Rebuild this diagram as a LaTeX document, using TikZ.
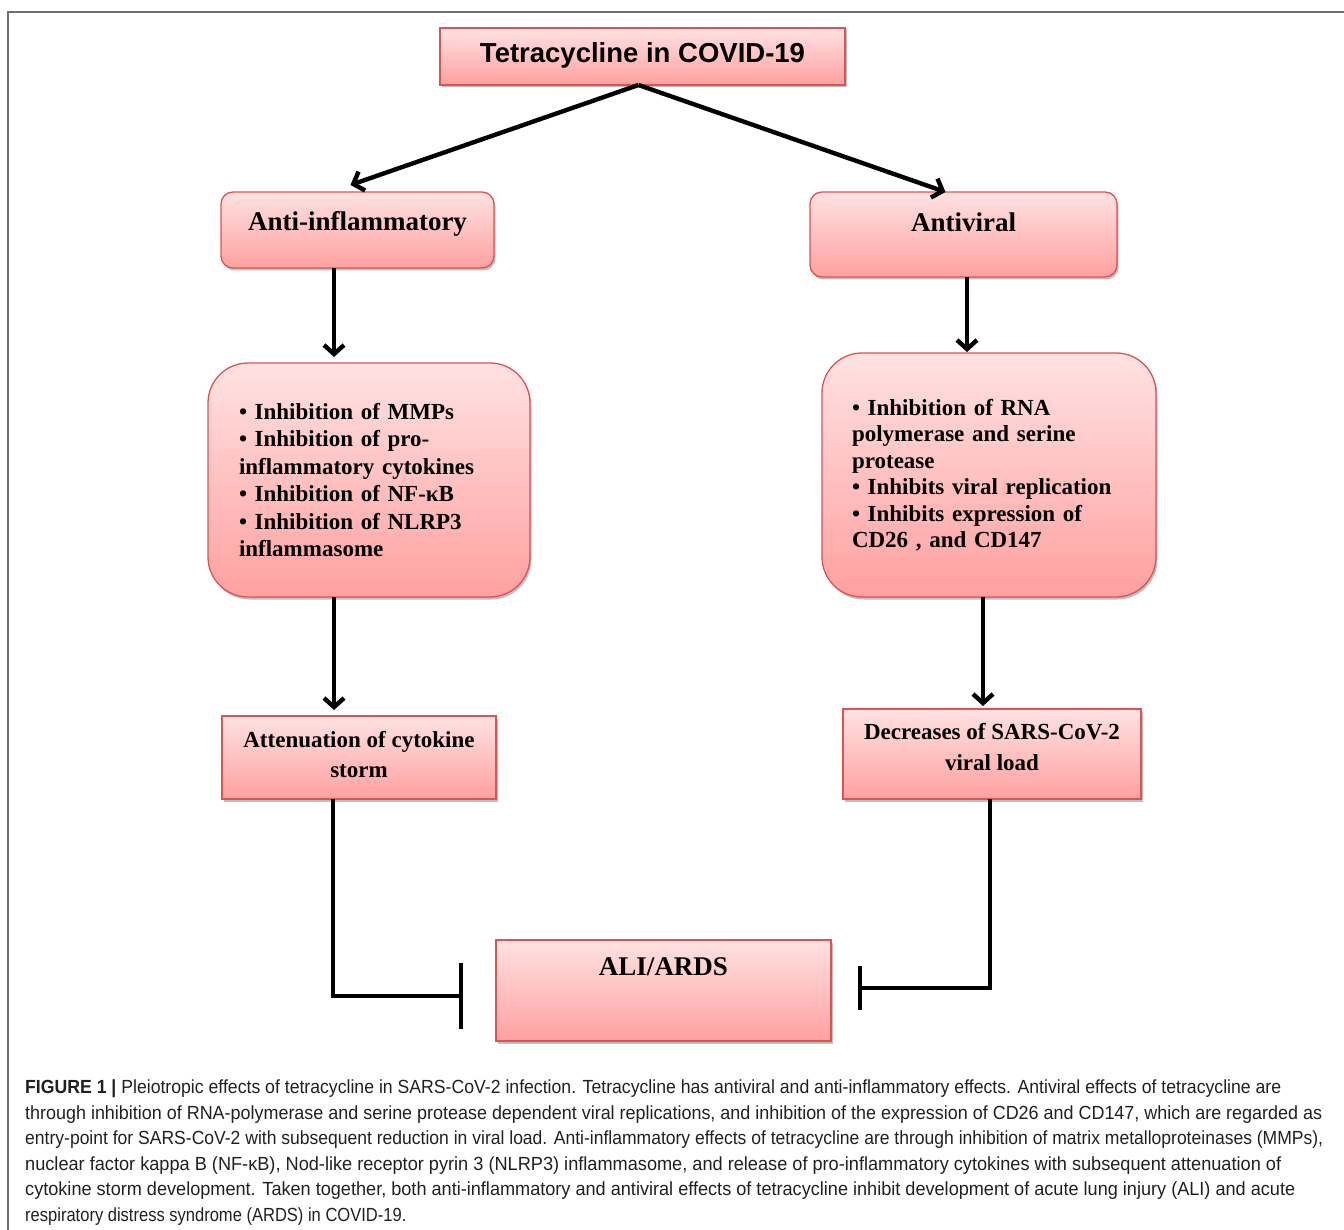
\documentclass[tikz,border=0pt]{standalone}
\usepackage{fontspec}
\setmainfont{Liberation Serif}
\newfontfamily\titlefont{Liberation Sans}
\newfontfamily\capfont[FakeStretch=0.87]{Liberation Sans}
\usepackage{graphicx}
\usetikzlibrary{arrows.meta,shadows}
\definecolor{boxtop}{HTML}{FFE2E2}
\definecolor{boxbot}{HTML}{FFA0A0}
\definecolor{boxline}{HTML}{E05252}
\definecolor{framegray}{HTML}{707070}
\definecolor{captext}{HTML}{231F20}
\begin{document}
\begin{tikzpicture}[x=1pt,y=-1pt,
  pbox/.style={draw=boxline, line width=1.3pt, top color=boxtop, bottom color=boxbot,
    anchor=north west, inner sep=0pt, outer sep=0pt,
    drop shadow={shadow xshift=1.5pt, shadow yshift=-2.5pt, fill=black, opacity=0.25}},
  headfont/.style={font=\bfseries\fontsize{27}{30}\selectfont},
  bodyfont/.style={font=\bfseries\fontsize{23}{#1}\selectfont},
  arr/.style={line width=4.4pt, -{Straight Barb[length=9pt,width=20pt]}},
  inh/.style={line width=4.4pt, -{Bar[width=#1]}}
]
\useasboundingbox (0,0) rectangle (1344,1230);
\draw[framegray, line width=1.5pt] (8,1232) -- (8,12) -- (1346,12);

\node[pbox, minimum width=405pt, minimum height=57pt, text height=35pt, text depth=22pt,
  font=\titlefont\bfseries\fontsize{27.5}{30}\selectfont] (title) at (440,28) {Tetracycline in COVID-19};

\node[pbox, rounded corners=12pt, minimum width=273pt, minimum height=76pt,
  text height=39pt, text depth=37pt, headfont] (anti) at (221,192) {Anti-inflammatory};
\node[pbox, rounded corners=12pt, minimum width=307pt, minimum height=85pt,
  text height=40pt, text depth=45pt, headfont] (antiv) at (810,192) {Antiviral};

\node[pbox, rounded corners=40pt, minimum width=322pt, minimum height=234pt,
  text width=260pt, align=left, bodyfont=27.4] (bl) at (208,363)
  {\textbullet\ Inhibition of MMPs\\
   \textbullet\ Inhibition of pro-\\
   inflammatory cytokines\\
   \textbullet\ Inhibition of NF-κB\\
   \textbullet\ Inhibition of NLRP3\\
   inflammasome};
\node[pbox, rounded corners=40pt, minimum width=334pt, minimum height=244pt,
  text width=274pt, align=left, bodyfont=26.5] (br) at (822,353)
  {\textbullet\ Inhibition of RNA\\
   polymerase and serine\\
   protease\\
   \textbullet\ Inhibits viral replication\\
   \textbullet\ Inhibits expression of\\
   CD26 , and CD147};

\node[pbox, minimum width=274pt, minimum height=83pt, align=center, bodyfont=30] (att) at (222,716)
  {Attenuation of cytokine\\storm\rule[-7pt]{0pt}{7pt}};
\node[pbox, minimum width=298pt, minimum height=90pt, align=center, bodyfont=31] (dec) at (843,709)
  {Decreases of SARS-CoV-2\\viral load\rule[-15pt]{0pt}{15pt}};

\node[pbox, minimum width=335pt, minimum height=101pt, text height=35pt, text depth=66pt,
  headfont] (ali) at (496,940) {ALI/ARDS};

% connectors
\draw[arr] ([xshift=-4pt]title.south) -- ([xshift=-7pt,yshift=7pt]anti.north);
\draw[arr] ([xshift=-4pt]title.south) -- ([xshift=-18pt]antiv.north);
\draw[arr] ([xshift=-23.5pt]anti.south) -- ([xshift=-35pt,yshift=6pt]bl.north);
\draw[arr] ([xshift=3.5pt]antiv.south) -- ([xshift=-22pt,yshift=1pt]br.north);
\draw[arr] ([xshift=-35pt]bl.south) -- ([xshift=-25pt,yshift=6pt]att.north);
\draw[arr] ([xshift=-6pt]br.south) -- ([xshift=-9pt,yshift=3pt]dec.north);

\coordinate (lbar) at ([xshift=-33pt,yshift=-5.5pt]ali.west);
\coordinate (rbar) at ([xshift=27pt,yshift=2.5pt]ali.east);
\draw[inh=66pt] ([xshift=-26pt]att.south) |- (lbar);
\draw[inh=44pt] ([xshift=-2pt]dec.south) |- (rbar);

% caption
\node[anchor=north west, inner sep=0pt, align=left, text=captext,
  font=\capfont\fontsize{19}{25.5}\selectfont] (caption) at (25,1080)
  {\resizebox{1256pt}{\height}{\textbf{FIGURE 1 |} Pleiotropic effects of tetracycline in SARS-CoV-2 infection. Tetracycline has antiviral and anti-inflammatory effects. Antiviral effects of tetracycline are}\\
   \resizebox{1297pt}{\height}{through inhibition of RNA-polymerase and serine protease dependent viral replications, and inhibition of the expression of CD26 and CD147, which are regarded as}\\
   \resizebox{1298pt}{\height}{entry-point for SARS-CoV-2 with subsequent reduction in viral load. Anti-inflammatory effects of tetracycline are through inhibition of matrix metalloproteinases (MMPs),}\\
   \resizebox{1256pt}{\height}{nuclear factor kappa B (NF-κB), Nod-like receptor pyrin 3 (NLRP3) inflammasome, and release of pro-inflammatory cytokines with subsequent attenuation of}\\
   \resizebox{1270pt}{\height}{cytokine storm development. Taken together, both anti-inflammatory and antiviral effects of tetracycline inhibit development of acute lung injury (ALI) and acute}\\
   respiratory distress syndrome (ARDS) in COVID-19.};
\end{tikzpicture}
\end{document}
